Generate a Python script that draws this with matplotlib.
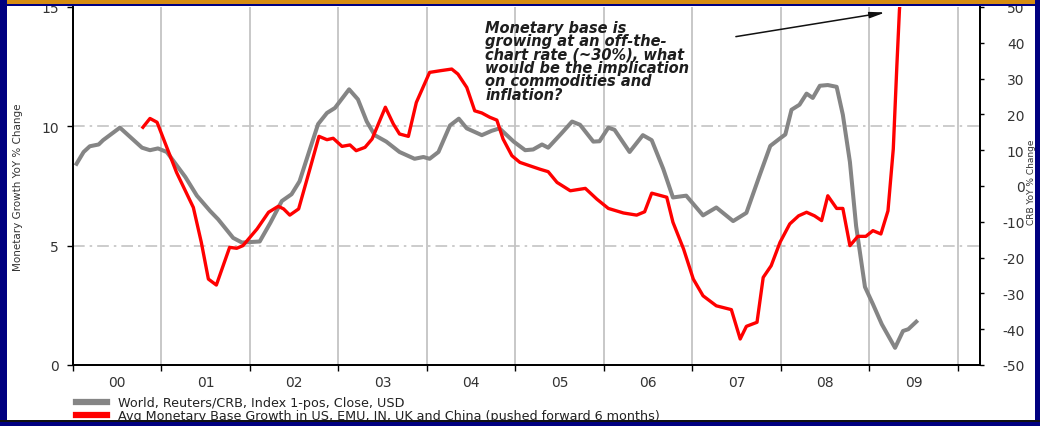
import matplotlib
matplotlib.use("Agg")
import matplotlib.pyplot as plt
from matplotlib.patches import Rectangle
from matplotlib.transforms import blended_transform_factory

plt.rcParams['font.family'] = ['DejaVu Sans']
plt.rcParams['axes.unicode_minus'] = False

# CRB index YoY % change (right axis)
crb_t = [2000.04, 2000.12, 2000.19, 2000.29, 2000.34, 2000.53, 2000.78, 2000.87, 2000.96,
         2001.06, 2001.27, 2001.40, 2001.55, 2001.64, 2001.81, 2001.91, 2002.11, 2002.23,
         2002.36, 2002.47, 2002.56, 2002.68, 2002.77, 2002.87, 2002.96, 2003.12, 2003.22,
         2003.32, 2003.41, 2003.54, 2003.69, 2003.86, 2003.96, 2004.03, 2004.13, 2004.26,
         2004.36, 2004.45, 2004.62, 2004.73, 2004.82, 2004.98, 2005.11, 2005.20, 2005.30,
         2005.37, 2005.52, 2005.64, 2005.73, 2005.88, 2005.95, 2006.05, 2006.12, 2006.29,
         2006.44, 2006.54, 2006.67, 2006.78, 2006.93, 2007.12, 2007.27, 2007.46, 2007.61,
         2007.76, 2007.88, 2007.99, 2008.05, 2008.12, 2008.21, 2008.29, 2008.36, 2008.44,
         2008.53, 2008.63, 2008.70, 2008.78, 2008.85, 2008.95, 2009.04, 2009.14, 2009.29,
         2009.38, 2009.44, 2009.53]
crb_v = [6.2, 9.5, 11.1, 11.6, 12.8, 16.3, 10.7, 10.0, 10.5,
         9.5, 2.5, -2.7, -7.0, -9.3, -14.5, -15.8, -15.5, -10.3,
         -4.2, -2.3, 1.3, 10.5, 17.3, 20.4, 21.8, 27.0, 24.2,
         18.0, 14.2, 12.4, 9.5, 7.6, 8.1, 7.6, 9.5, 16.9,
         18.8, 16.1, 14.2, 15.4, 16.1, 12.4, 10.0, 10.2, 11.6,
         10.7, 14.7, 18.0, 17.1, 12.4, 12.5, 16.3, 15.7, 9.5,
         14.2, 12.8, 4.8, -3.2, -2.7, -8.2, -6.0, -9.8, -7.5,
         3.0, 11.2, 13.3, 14.4, 21.3, 22.7, 25.8, 24.6, 28.0,
         28.2, 27.7, 19.9, 6.7, -11.2, -28.2, -33.0, -38.6, -45.2,
         -40.5, -40.0, -37.9]

# avg monetary base growth, pushed forward 6 months (left axis)
mb_t = [2000.79, 2000.87, 2000.95, 2001.06, 2001.17, 2001.36, 2001.45, 2001.53, 2001.62,
        2001.77, 2001.85, 2001.92, 2002.08, 2002.21, 2002.32, 2002.38, 2002.45, 2002.55,
        2002.68, 2002.78, 2002.87, 2002.94, 2003.04, 2003.13, 2003.20, 2003.30, 2003.38,
        2003.53, 2003.62, 2003.69, 2003.79, 2003.88, 2004.03, 2004.15, 2004.28, 2004.35,
        2004.45, 2004.54, 2004.62, 2004.71, 2004.79, 2004.86, 2004.96, 2005.05, 2005.16,
        2005.28, 2005.37, 2005.47, 2005.62, 2005.79, 2005.92, 2006.05, 2006.22, 2006.37,
        2006.46, 2006.54, 2006.71, 2006.78, 2006.90, 2007.01, 2007.12, 2007.27, 2007.44,
        2007.54, 2007.61, 2007.73, 2007.80, 2007.89, 2007.99, 2008.10, 2008.20, 2008.29,
        2008.38, 2008.46, 2008.53, 2008.63, 2008.70, 2008.78, 2008.87, 2008.96, 2009.04,
        2009.13, 2009.21, 2009.27, 2009.31, 2009.34, 2009.38]
mb_v = [9.96, 10.33, 10.17, 9.12, 8.07, 6.6, 5.14, 3.6, 3.35,
        4.93, 4.89, 5.0, 5.7, 6.4, 6.65, 6.54, 6.28, 6.54,
        8.25, 9.58, 9.44, 9.5, 9.16, 9.22, 8.98, 9.12, 9.47,
        10.8, 10.1, 9.68, 9.58, 11.0, 12.26, 12.33, 12.4, 12.19,
        11.63, 10.65, 10.56, 10.38, 10.26, 9.47, 8.77, 8.49, 8.35,
        8.2, 8.1, 7.65, 7.3, 7.4, 6.95, 6.56, 6.37, 6.28,
        6.42, 7.2, 7.03, 5.98, 4.86, 3.6, 2.9, 2.48, 2.32,
        1.09, 1.62, 1.79, 3.67, 4.16, 5.14, 5.91, 6.25, 6.4,
        6.25, 6.05, 7.09, 6.56, 6.56, 5.0, 5.39, 5.39, 5.63,
        5.49, 6.46, 9.05, 12.5, 14.9, 16.5]

years = list(range(2000, 2011))
year_mid = [y + 0.5 for y in range(2000, 2010)]
year_labels = ['00', '01', '02', '03', '04', '05', '06', '07', '08', '09']
left_ticks = [0, 5, 10, 15]
right_ticks = list(range(-50, 51, 10))
hgrid_left = [5, 10]

W, H = 1040, 427
NAVY = '#000080'
fig = plt.figure(figsize=(W / 100, H / 100), dpi=100, facecolor='white')

# crb axes at the back, monetary axes on top (red drawn over gray)
ax = fig.add_axes([73 / W, 1 - 366 / H, (980 - 73) / W, (366 - 8) / H])
ax2 = ax.twinx()

ax.plot(crb_t, crb_v, color='#858585', lw=2.9, solid_joinstyle='round')
ax2.plot(mb_t, mb_v, color='#ff0000', lw=2.4, solid_joinstyle='round')

ax.set_xlim(2000, 2010.25)
ax.set_ylim(-50, 50)
ax2.set_ylim(0, 15)

# grid
ax.set_xticks(years)
ax.grid(axis='x', color='#c4c4c4', lw=1.3)
trans = blended_transform_factory(ax.transAxes, ax2.transData)
for v in hgrid_left:
    ax.plot([0, 1], [v, v], transform=trans, color='#c4c4c4', lw=1.2,
            ls=(0, (7, 3, 1.5, 3)), zorder=1)

ax.set_xticks(year_mid, year_labels, minor=True)
ax.tick_params(axis='x', which='major', direction='out', length=4, width=1,
               labelbottom=False)
ax.tick_params(axis='x', which='minor', length=0, pad=7, labelsize=10,
               labelcolor='#333333')

ax.yaxis.tick_right()
ax.set_yticks(right_ticks)
ax.tick_params(axis='y', direction='out', length=3, width=1, pad=29,
               labelsize=10, labelcolor='#333333')
for lab in ax.get_yticklabels():
    lab.set_horizontalalignment('right')

ax2.yaxis.tick_left()
ax2.set_yticks(left_ticks)
ax2.tick_params(axis='y', direction='out', length=4, width=1, pad=6,
                labelsize=10, labelcolor='#333333')

for a in (ax, ax2):
    a.spines['top'].set_visible(False)
    for s in ('left', 'right', 'bottom'):
        a.spines[s].set_linewidth(1.3)

fig.text(18 / W, 1 - 187 / H, 'Monetary Growth YoY % Change', rotation=90,
         ha='center', va='center', fontsize=7.5, color='#333333')
fig.text(1032 / W, 1 - 182 / H, 'CRB YoY % Change', rotation=90,
         ha='center', va='center', fontsize=6.5, color='#333333')

# annotation
ax2.text(2004.66, 14.45,
         'Monetary base is\ngrowing at an off-the-\nchart rate (~30%), what\n'
         'would be the implication\non commodities and\ninflation?',
         ha='left', va='top', fontsize=10.5, fontweight='bold', fontstyle='italic',
         linespacing=0.86, color='#1e1e1e')
ax2.annotate('', xy=(2009.21, 14.79), xytext=(2007.46, 13.74),
             arrowprops=dict(arrowstyle='-|>,head_length=0.9,head_width=0.18',
                             color='#111111', lw=1.1))

# legend
leg = fig.legend(ax.get_lines()[:1] + ax2.get_lines()[:1],
                 ['World, Reuters/CRB, Index 1-pos, Close, USD',
                  'Avg Monetary Base Growth in US, EMU, JN, UK and China (pushed forward 6 months)'],
                 loc='upper left', bbox_to_anchor=(76 / W, 1 - 397 / H),
                 frameon=False, fontsize=9.2, borderpad=0, borderaxespad=0,
                 labelspacing=0.0, handlelength=2.4, handletextpad=0.9)
for h in leg.legend_handles:
    h.set_linewidth(4.5)
for t in leg.get_texts():
    t.set_color('#222222')

# page frame: orange title bar and navy border
def band(x, y, w, h, c):
    fig.patches.append(Rectangle((x / W, 1 - (y + h) / H), w / W, h / H,
                                 transform=fig.transFigure, facecolor=c,
                                 edgecolor='none', zorder=10))

band(0, 0, W, 5, '#d68d12')
band(0, 5, W, 2, NAVY)
band(0, 0, 7, H, NAVY)
band(1035, 0, 5, H, NAVY)
band(0, 421, W, 2, '#111111')
band(0, 423, W, 4, NAVY)

fig.savefig('out.png', dpi=100, facecolor=fig.get_facecolor())
